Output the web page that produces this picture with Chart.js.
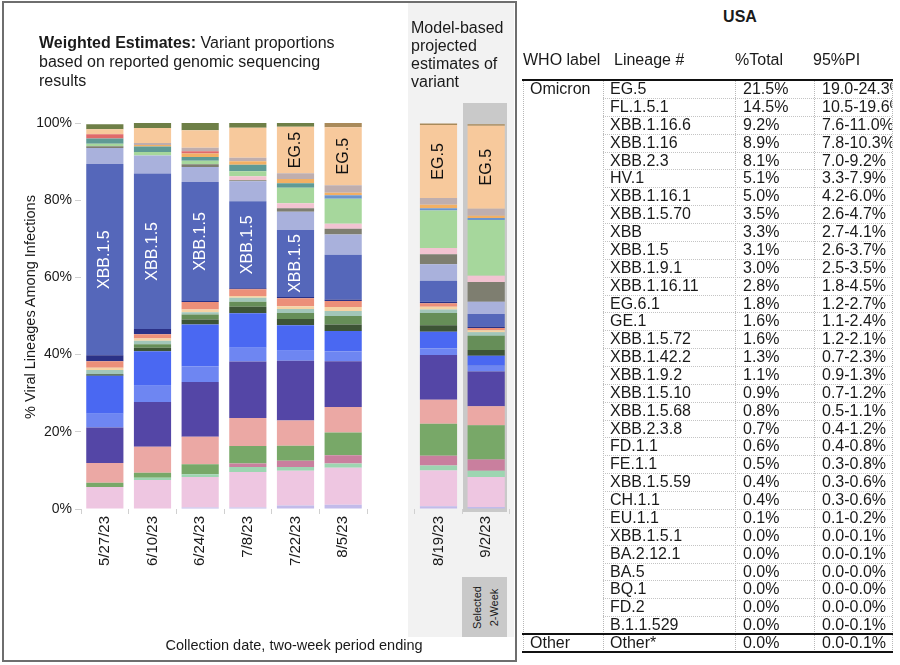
<!DOCTYPE html>
<html><head><meta charset="utf-8">
<script src="https://cdn.jsdelivr.net/npm/chart.js@4.4.0/dist/chart.umd.min.js"></script>
<style>
body{margin:0;width:900px;height:665px;background:#fff;position:relative;overflow:hidden;font-family:"Liberation Sans",Arial,sans-serif;color:#1a1a1a}
.abs{position:absolute}
#frame{left:2px;top:1px;width:511px;height:657px;border:2px solid #6e6e6e}
#nowBg{left:408px;top:3px;width:106px;height:634px;background:#f2f2f2}
#selCol{left:463px;top:103px;width:44px;height:409px;background:#c9c9c9}
#selBox{left:462px;top:577px;width:45px;height:60px;background:#c9c9c9}
#selText{left:454.5px;top:584.5px;width:60px;height:45px;box-sizing:border-box;padding-top:5.5px;font-size:11px;line-height:17px;text-align:center;transform:rotate(-90deg);color:#1a1a1a}
#title{left:39px;top:33px;font-size:16px;line-height:19px;white-space:nowrap}
#model{left:411px;top:18.5px;font-size:16px;line-height:18.3px;white-space:nowrap}
#ytitle{left:-120px;top:298px;width:300px;height:18px;line-height:18px;font-size:14.5px;text-align:center;transform:rotate(-90deg);white-space:nowrap}
#xtitle{left:94px;top:636px;width:400px;line-height:18px;font-size:14.5px;text-align:center;white-space:nowrap}
.t{position:absolute;font-size:16px;white-space:nowrap;overflow:hidden}
.vl{position:absolute;width:0;border-left:1px dotted #b8b8b8}
.hl{position:absolute;height:0;border-top:1px dotted #c4c4c4}
.sl{position:absolute;height:0;border-top:2px solid #111}
</style></head><body>
<div class="abs" id="frame"></div>
<div class="abs" id="nowBg"></div>
<div class="abs" id="selCol"></div>
<div class="abs" id="selBox"></div>
<div class="abs" id="selText">Selected<br>2-Week</div>
<canvas id="c" width="520" height="665" class="abs" style="left:0;top:0"></canvas>
<div class="abs" id="title"><b>Weighted Estimates:</b> Variant proportions<br>based on reported genomic sequencing<br>results</div>
<div class="abs" id="model">Model-based<br>projected<br>estimates of<br>variant</div>
<div class="abs" id="ytitle">% Viral Lineages Among Infections</div>
<div class="abs" id="xtitle">Collection date, two-week period ending</div>
<div id="table"></div>
<script>
// ---------- chart data ----------
const categories = ['5/27/23','6/10/23','6/24/23','7/8/23','7/22/23','8/5/23','','8/19/23','9/2/23'];

// series, bottom of stack to top (values in %, one per period; gap column = null)
const XBB_1_5_59  = [0,    0,    0.4,  0.4,  0.9,  1.1,  null, 0.7,  0.5];
const XBB_2_3     = [5.7,  7.5,  7.9,  9.2,  9.0,  9.6,  null, 9.3,  7.8];
const GE_1        = [0,    0.6,  0.7,  1.3,  1.0,  1.1,  null, 1.3,  1.6];
const XBB_1_16_11 = [0,    0,    0,    0.9,  1.6,  2.1,  null, 2.5,  2.9];
const XBB_1_16_6  = [1.1,  1.3,  2.6,  4.5,  3.9,  5.9,  null, 8.3,  8.9];
const XBB_1_16_1  = [5.1,  6.7,  7.1,  7.3,  6.5,  6.6,  null, 6.2,  4.9];
const XBB_1_16    = [9.2,  11.6, 14.2, 14.6, 15.5, 11.9, null, 11.6, 9.0];
const XBB_1_9_2   = [3.6,  4.2,  4.1,  3.6,  2.6,  2.6,  null, 1.7,  1.5];
const XBB_1_9_1   = [9.8,  9.0,  10.8, 8.9,  6.6,  5.2,  null, 4.3,  2.6];
const XBB_1_42_2  = [0.4,  0.9,  1.3,  1.7,  1.6,  1.7,  null, 1.7,  1.5];
const XBB_1_5_70  = [0,    0.9,  1.3,  1.3,  1.6,  2.2,  null, 3.2,  3.7];
const XBB_1_5_10  = [1.1,  0.9,  0.6,  1.0,  1.0,  1.3,  null, 0.9,  0.9];
const XBB_1_5_68  = [0.6,  0.6,  0.7,  0.5,  0.7,  1.0,  null, 0.7,  0.5];
const XBB_2_3_8   = [1.7,  1.1,  1.9,  1.7,  2.1,  1.6,  null, 0.9,  0.6];
const EU_1_1      = [1.5,  1.3,  0.3,  0.3,  0.3,  0.4,  null, 0.4,  0.3];
const XBB_1_5     = [49.6, 40.3, 30.8, 22.5, 17.4, 11.6, null, 5.4,  3.3];
const XBB         = [4.1,  4.7,  3.9,  5.2,  4.7,  5.2,  null, 4.3,  3.2];
const HV_1        = [0.5,  0,    0.7,  0.3,  0.9,  1.5,  null, 2.6,  5.1];
const XBB_1_5_72  = [0,    0,    0,    1.0,  1.3,  1.3,  null, 1.6,  1.6];
const FL_1_5_1    = [0.6,  0.9,  0.9,  1.3,  4.0,  6.5,  null, 9.7,  14.5];
const XBB_1_5_1   = [1.4,  1.4,  1.0,  1.7,  1.2,  0,    null, 0,    0];
const FE_1_1      = [0,    0,    0,    0,    0,    0.9,  null, 0.6,  0.5];
const FD_1_1      = [0,    0.4,  0.9,  0.9,  1.1,  0.6,  null, 0.9,  0.6];
const BA_2_12_1   = [1.1,  0,    0.6,  0,    0,    0,    null, 0,    0];
const EG_6_1      = [0,    0.5,  0.9,  0.9,  1.5,  2.0,  null, 1.8,  1.8];
const EG_5        = [1.3,  3.9,  4.5,  7.8,  12.0, 15.0, null, 18.9, 21.5];
const OTHER       = [1.3,  1.3,  2.0,  1.3,  1.3,  0,    null, 0,    0];
const CH_1_1      = [0,    0,    0,    0,    0,    1.3,  null, 0.4,  0.4];

const seriesOrder = [
  ['XBB.1.5.59', XBB_1_5_59], ['XBB.2.3', XBB_2_3], ['GE.1', GE_1], ['XBB.1.16.11', XBB_1_16_11],
  ['XBB.1.16.6', XBB_1_16_6], ['XBB.1.16.1', XBB_1_16_1], ['XBB.1.16', XBB_1_16], ['XBB.1.9.2', XBB_1_9_2],
  ['XBB.1.9.1', XBB_1_9_1], ['XBB.1.42.2', XBB_1_42_2], ['XBB.1.5.70', XBB_1_5_70], ['XBB.1.5.10', XBB_1_5_10],
  ['XBB.1.5.68', XBB_1_5_68], ['XBB.2.3.8', XBB_2_3_8], ['EU.1.1', EU_1_1], ['XBB.1.5', XBB_1_5],
  ['XBB', XBB], ['HV.1', HV_1], ['XBB.1.5.72', XBB_1_5_72], ['FL.1.5.1', FL_1_5_1],
  ['XBB.1.5.1', XBB_1_5_1], ['FE.1.1', FE_1_1], ['FD.1.1', FD_1_1], ['BA.2.12.1', BA_2_12_1],
  ['EG.6.1', EG_6_1], ['EG.5', EG_5], ['Other', OTHER], ['CH.1.1', CH_1_1]
];

// labels written inside bar segments: series name, bar indices
const xbbLabelBars = [0, 1, 2, 3, 4];
const eg5LabelBars = [4, 5, 7, 8];

// ---------- table data ----------
const tableLineages = ['EG.5','FL.1.5.1','XBB.1.16.6','XBB.1.16','XBB.2.3','HV.1','XBB.1.16.1','XBB.1.5.70','XBB','XBB.1.5','XBB.1.9.1','XBB.1.16.11','EG.6.1','GE.1','XBB.1.5.72','XBB.1.42.2','XBB.1.9.2','XBB.1.5.10','XBB.1.5.68','XBB.2.3.8','FD.1.1','FE.1.1','XBB.1.5.59','CH.1.1','EU.1.1','XBB.1.5.1','BA.2.12.1','BA.5','BQ.1','FD.2','B.1.1.529'];
const tablePct = ['21.5%','14.5%','9.2%','8.9%','8.1%','5.1%','5.0%','3.5%','3.3%','3.1%','3.0%','2.8%','1.8%','1.6%','1.6%','1.3%','1.1%','0.9%','0.8%','0.7%','0.6%','0.5%','0.4%','0.4%','0.1%','0.0%','0.0%','0.0%','0.0%','0.0%','0.0%'];
const tablePI = ['19.0-24.3%','10.5-19.6%','7.6-11.0%','7.8-10.3%','7.0-9.2%','3.3-7.9%','4.2-6.0%','2.6-4.7%','2.7-4.1%','2.6-3.7%','2.5-3.5%','1.8-4.5%','1.2-2.7%','1.1-2.4%','1.2-2.1%','0.7-2.3%','0.9-1.3%','0.7-1.2%','0.5-1.1%','0.4-1.2%','0.4-0.8%','0.3-0.8%','0.3-0.6%','0.3-0.6%','0.1-0.2%','0.0-0.1%','0.0-0.1%','0.0-0.0%','0.0-0.0%','0.0-0.0%','0.0-0.1%'];
const otherRow = ['Other', 'Other*', '0.0%', '0.0-0.1%'];

// ---------- styles ----------
const seriesColors = {
  'XBB.1.5.59':'#c2bbea','XBB.2.3':'#eec6e1','GE.1':'#9dd5b1','XBB.1.16.11':'#c97f9e',
  'XBB.1.16.6':'#78a868','XBB.1.16.1':'#eba8a4','XBB.1.16':'#5446a6','XBB.1.9.2':'#6e86f2',
  'XBB.1.9.1':'#4a68f2','XBB.1.42.2':'#3d5436','XBB.1.5.70':'#668e58','XBB.1.5.10':'#a2c6b9',
  'XBB.1.5.68':'#f6d3a4','XBB.2.3.8':'#ec8f79','EU.1.1':'#2b3187','XBB.1.5':'#5567ba',
  'XBB':'#a9b1dc','HV.1':'#7e7e70','XBB.1.5.72':'#f2c3d1','FL.1.5.1':'#a6d79c',
  'XBB.1.5.1':'#5f9a95','FE.1.1':'#6c94cb','FD.1.1':'#f2b064','BA.2.12.1':'#e06a6a',
  'EG.6.1':'#bfaeae','EG.5':'#f7c99c','Other':'#6e7f47','CH.1.1':'#a98a5a'
};

Chart.defaults.font.family = '"Liberation Sans", Arial, sans-serif';

const segLabels = {
  id: 'segLabels',
  afterDatasetsDraw(chart) {
    const ctx = chart.ctx;
    const jobs = [['XBB.1.5', xbbLabelBars, '#ffffff'], ['EG.5', eg5LabelBars, '#111111']];
    jobs.forEach(([name, bars, color]) => {
      const di = chart.data.datasets.findIndex(d => d.label === name);
      const meta = chart.getDatasetMeta(di);
      bars.forEach(i => {
        const el = meta.data[i];
        const p = el.getProps(['x', 'y', 'base'], true);
        ctx.save();
        ctx.translate(p.x, (p.y + p.base) / 2);
        ctx.rotate(-Math.PI / 2);
        ctx.font = '16px "Liberation Sans", Arial, sans-serif';
        ctx.fillStyle = color;
        ctx.textAlign = 'center';
        ctx.textBaseline = 'middle';
        ctx.fillText(name, 0, 0);
        ctx.restore();
      });
    });
  }
};

new Chart(document.getElementById('c'), {
  type: 'bar',
  data: {
    labels: categories,
    datasets: seriesOrder.map(([name, vals]) => ({
      label: name, data: vals, backgroundColor: seriesColors[name], borderWidth: 0,
      barPercentage: 0.78, categoryPercentage: 1.0
    }))
  },
  options: {
    responsive: false, animation: false,
    layout: { padding: { top: 123, right: 10, left: 0, bottom: 0 } },
    plugins: { legend: { display: false }, tooltip: { enabled: false } },
    scales: {
      x: {
        stacked: true,
        grid: { display: true, drawOnChartArea: false, drawTicks: true, tickLength: 5, color: '#d0d0d0', offset: true },
        border: { display: false },
        ticks: { autoSkip: false, minRotation: 90, maxRotation: 90, padding: 2, color: '#1a1a1a', font: { size: 15 } },
        afterFit: s => { s.height = 665 - 509; }
      },
      y: {
        stacked: true, min: 0, max: 100,
        grid: { drawOnChartArea: false, drawTicks: true, tickLength: 6, color: '#d0d0d0' },
        border: { display: false },
        ticks: { stepSize: 20, callback: v => v + '%', padding: 3, color: '#1a1a1a', font: { size: 14 } },
        afterFit: s => { s.width = 81; }
      }
    }
  },
  plugins: [segLabels]
});

// ---------- table ----------
(function buildTable() {
  const root = document.getElementById('table');
  const add = (cls, css, text, html) => {
    const d = document.createElement('div');
    d.className = cls; d.style.cssText = css;
    if (html) d.innerHTML = html; else if (text !== undefined) d.textContent = text;
    root.appendChild(d); return d;
  };
  const rowH = 17.87, y0 = 80.06;
  add('t', 'left:640px;top:7px;width:200px;text-align:center;line-height:20px;font-weight:bold', 'USA');
  const hdr = [['WHO label', 523], ['Lineage #', 614], ['%Total', 735], ['95%PI', 813]];
  hdr.forEach(([t, x]) => add('t', `left:${x}px;top:50px;line-height:20px`, t));
  // dotted grid
  [523, 603, 735, 814, 892].forEach(x => add('vl', `left:${x}px;top:81px;height:571px`));
  for (let i = 1; i < tableLineages.length; i++) {
    add('hl', `left:603px;top:${(y0 + i * rowH).toFixed(2)}px;width:289px`);
  }
  // solid rules
  add('sl', 'left:522px;top:79px;width:371px');
  add('sl', `left:522px;top:${(y0 + tableLineages.length * rowH - 1).toFixed(2)}px;width:371px`);
  add('sl', `left:522px;top:${(y0 + (tableLineages.length + 1) * rowH - 1).toFixed(2)}px;width:371px`);
  const cell = (i, vals) => {
    const top = (y0 + i * rowH).toFixed(2);
    const base = `top:${top}px;height:${rowH}px;line-height:${rowH}px;`;
    if (vals[0]) add('t', base + 'left:530px', vals[0]);
    add('t', base + 'left:610px', vals[1]);
    add('t', base + 'left:743px', vals[2]);
    add('t', base + 'left:822px;width:70px', vals[3]);
  };
  tableLineages.forEach((l, i) => cell(i, [i === 0 ? 'Omicron' : '', l, tablePct[i], tablePI[i]]));
  cell(tableLineages.length, otherRow);
})();
</script>
</body></html>
